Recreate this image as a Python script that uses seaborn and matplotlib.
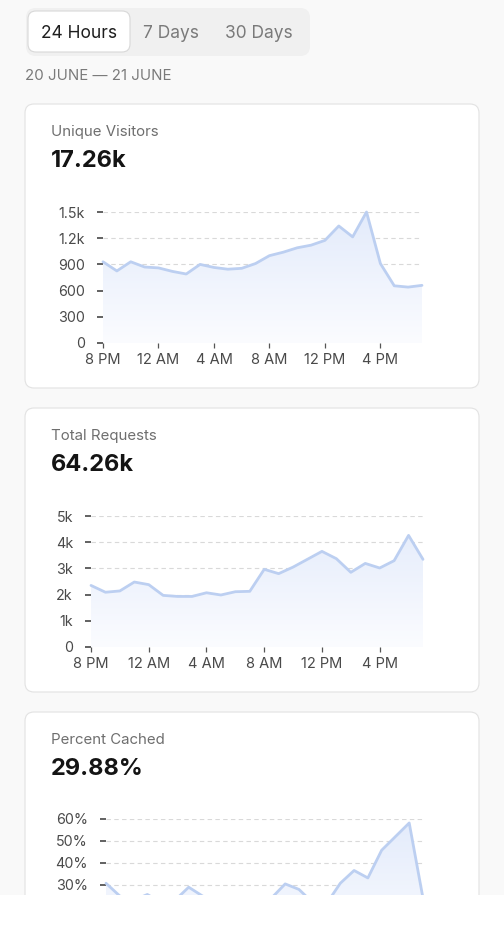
import numpy as np
import matplotlib
matplotlib.use('Agg')
import matplotlib.pyplot as plt
import seaborn as sns
from matplotlib.patches import FancyBboxPatch, Rectangle
from matplotlib.colors import LinearSegmentedColormap

# hourly points from 8 PM (20 June) to 7 PM (21 June)
hours = list(range(24))
tick_hours = [0, 4, 8, 12, 16, 20]
tick_names = ['8 PM', '12 AM', '4 AM', '8 AM', '12 PM', '4 PM']

visitors = [930, 825, 930, 870, 860, 820, 790, 900, 865, 845, 855, 910,
            1000, 1040, 1090, 1120, 1175, 1340, 1215, 1500, 910, 655, 640, 660]
requests = [2350, 2090, 2140, 2480, 2380, 1970, 1930, 1930, 2070, 1985, 2110, 2125,
            2965, 2800, 3050, 3350, 3650, 3370, 2850, 3190, 3015, 3295, 4260, 3345]
cached = [30.8, 25.0, 23.0, 25.7, 22.0, 23.0, 29.0, 25.0, 22.0, 21.0, 22.0, 21.0,
          24.0, 30.5, 28.0, 22.0, 21.5, 30.8, 36.6, 33.2, 45.8, 52.0, 58.2, 24.0]

ranges = ['24 Hours', '7 Days', '30 Days']
date_span = '20 JUNE — 21 JUNE'
card_titles = ['Unique Visitors', 'Total Requests', 'Percent Cached']
card_totals = ['17.26k', '64.26k', '29.88%']

visitor_ticks = [0, 300, 600, 900, 1200, 1500]
visitor_labels = ['0', '300', '600', '900', '1.2k', '1.5k']
request_ticks = [0, 1000, 2000, 3000, 4000, 5000]
request_labels = ['0', '1k', '2k', '3k', '4k', '5k']
# only the upper part of the last chart is on screen
cached_ticks = [30, 40, 50, 60]
cached_labels = ['30%', '40%', '50%', '60%']

sns.set_theme(style='white')
plt.rcParams['font.family'] = ['Inter', 'DejaVu Sans']

W, H = 504, 939
fig = plt.figure(figsize=(W / 100, H / 100), dpi=100)
fig.patch.set_facecolor('#f9f9f9')

# background layer in pixel coordinates
bg = fig.add_axes([0, 0, 1, 1])
bg.set_xlim(0, W)
bg.set_ylim(H, 0)
bg.axis('off')


def rbox(x0, y0, x1, y1, r, fc, ec='none', lw=0.0):
    p = FancyBboxPatch((x0, y0), x1 - x0, y1 - y0,
                       boxstyle=f'round,pad=0,rounding_size={r}',
                       fc=fc, ec=ec, lw=lw)
    bg.add_patch(p)


# range switch
rbox(26, 8, 310, 56, 10, '#f0f0f0')
rbox(28, 11, 130, 52, 8, 'white', '#d8d8d8', 0.8)
range_x = [79, 171, 259]
for name, cx, col in zip(ranges, range_x, ['#1e1e1e', '#7a7a7a', '#7a7a7a']):
    bg.text(cx, 33.5, name, ha='center', va='center', fontsize=12.5, color=col)
bg.text(25, 76, date_span, ha='left', va='center', fontsize=10.8, color='#7a7a7a')

card_tops = [104, 408, 712]
for top, title, total in zip(card_tops, card_titles, card_totals):
    rbox(25, top, 479, top + 284, 9, 'white', '#e2e2e2', 0.8)
    bg.text(51, top + 28, title, ha='left', va='center', fontsize=10.8, color='#6e6e6e')
    bg.text(51, top + 57, total, ha='left', va='center', fontsize=17,
            fontweight='bold', color='#141414')

grad_cmap = LinearSegmentedColormap.from_list('fade', ['#fbfcff', '#e3ebfb'])
line_col = '#bccff1'


def chart(px, values, ticks, labels, top, show_x=True):
    x0, ytop, x1, ybot = px
    ax = fig.add_axes([x0 / W, 1 - ybot / H, (x1 - x0) / W, (ybot - ytop) / H])
    ax.patch.set_alpha(0)
    sns.lineplot(x=hours, y=values, ax=ax, color=line_col, linewidth=2.0,
                 zorder=3, clip_on=False)
    poly = ax.fill_between(hours, values, 0, color='none', lw=0)
    grad = np.linspace(0, 1, 256).reshape(-1, 1)
    im = ax.imshow(grad, cmap=grad_cmap, extent=[0, 23, 0, top], origin='lower',
                   aspect='auto', zorder=1)
    im.set_clip_path(poly.get_paths()[0], transform=ax.transData)
    ax.set_xlim(0, 23)
    ax.set_ylim(0, top)
    ax.set_yticks(ticks)
    ax.set_yticklabels(labels)
    ax.set_xticks(tick_hours)
    ax.set_xticklabels(tick_names)
    ax.set_xlabel('')
    ax.set_ylabel('')
    for s in ax.spines.values():
        s.set_visible(False)
    ax.grid(axis='y', color='#d9d9d9', linestyle=(0, (4, 3)), linewidth=0.8, zorder=0)
    ax.tick_params(axis='y', left=True, direction='out', length=4, width=1.3,
                   color='#555555', pad=9, labelsize=10.3, labelcolor='#4a4a4a')
    ax.tick_params(axis='x', bottom=show_x, labelbottom=show_x, direction='out',
                   length=3.5, width=0.9, color='#555555', pad=4, labelsize=10.5,
                   labelcolor='#4a4a4a')
    return ax


chart((103, 212, 422, 343), visitors, visitor_ticks, visitor_labels, 1500)
chart((91, 516, 423, 647), requests, request_ticks, request_labels, 5000)
chart((106, 819, 423, 951), cached, cached_ticks, cached_labels, 60, show_x=False)

# white band that cuts off the last card
cover = fig.add_axes([0, 0, 1, 44 / H])
cover.axis('off')
cover.add_patch(Rectangle((0, 0), 1, 1, transform=cover.transAxes, fc='white', ec='none'))

fig.savefig('out.png', dpi=100, facecolor=fig.get_facecolor())
